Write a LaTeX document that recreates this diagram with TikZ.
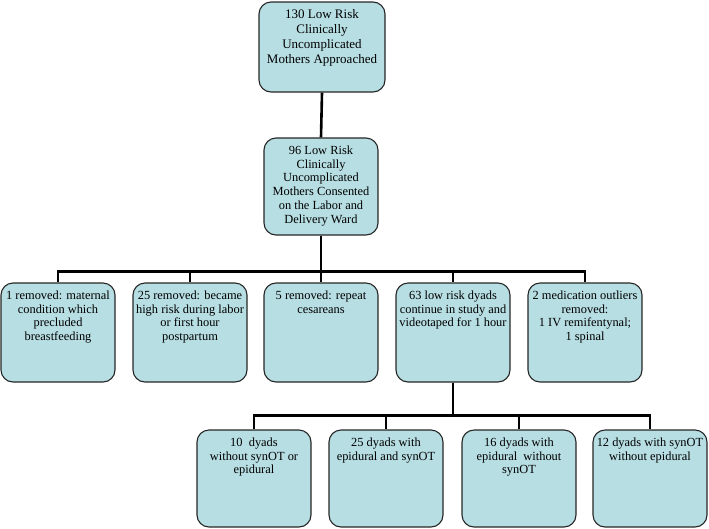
\documentclass[tikz,border=0pt]{standalone}
\usepackage{fontspec}
\setmainfont{Liberation Serif}
\definecolor{boxblue}{RGB}{183,222,227}
\begin{document}
\begin{tikzpicture}
  [x=1pt, y=1pt,
   box/.style={draw=black!85, line width=1.1pt, rounded corners=12pt,
     fill=boxblue, minimum width=114pt, minimum height=99pt, inner sep=0pt},
   txt/.style={anchor=north, align=center, inner sep=0pt, yshift=-8pt,
     font=\fontsize{12.4}{13.8}\selectfont},
   conn/.style={line width=2.6pt}]
  \useasboundingbox (0,0) rectangle (709,-528);

  % top of the tree
  \node[box, minimum width=126pt, minimum height=90pt] (top) at (322,-47) {};
  \node[txt, font=\fontsize{13}{15}\selectfont] (ttop) at (top.north)
    {130 Low Risk\\Clinically\\Uncomplicated\\Mothers Approached};
  \node[box, minimum height=97pt] (mid) at (321,-186.5) {};
  \node[txt] (tmid) at (mid.north)
    {96 Low Risk\\Clinically\\Uncomplicated\\Mothers Consented\\on the Labor and\\Delivery Ward};

  % second row
  \node[box] (r1) at (58,-332.5) {};
  \node[txt] (t1) at (r1.north) {1 removed: maternal\\condition which\\precluded\\breastfeeding};
  \node[box] (r2) at (190,-332.5) {};
  \node[txt] (t2) at (r2.north) {25 removed: became\\high risk during labor\\or first hour\\postpartum};
  \node[box] (r3) at (321,-332.5) {};
  \node[txt] (t3) at (r3.north) {5 removed: repeat\\cesareans};
  \node[box] (r4) at (453,-332.5) {};
  \node[txt] (t4) at (r4.north) {63 low risk dyads\\continue in study and\\videotaped for 1 hour};
  \node[box] (r5) at (585,-332.5) {};
  \node[txt] (t5) at (r5.north) {2 medication outliers\\removed:\\1 IV remifentynal;\\1 spinal};

  % third row
  \node[box, minimum height=97pt] (g1) at (254,-478.5) {};
  \node[txt] (u1) at (g1.north) {10\ \ dyads\\without synOT or\\epidural};
  \node[box, minimum height=97pt] (g2) at (386,-478.5) {};
  \node[txt] (u2) at (g2.north) {25 dyads with\\epidural and synOT};
  \node[box, minimum height=97pt] (g3) at (519,-478.5) {};
  \node[txt] (u3) at (g3.north) {16 dyads with\\epidural\ \ without\\synOT};
  \node[box, minimum height=97pt] (g4) at (650,-478.5) {};
  \node[txt] (u4) at (g4.north) {12 dyads with synOT\\without epidural};

  \draw[conn] (top.south) -- (mid.north);
  \foreach \c in {r1,r2,r3,r4,r5}
    \draw[conn] (mid.south) -- ++(0,-36) -| (\c.north);
  \foreach \c in {g1,g2,g3,g4}
    \draw[conn] (r4.south) -- ++(0,-33) -| (\c.north);
\end{tikzpicture}
\end{document}
